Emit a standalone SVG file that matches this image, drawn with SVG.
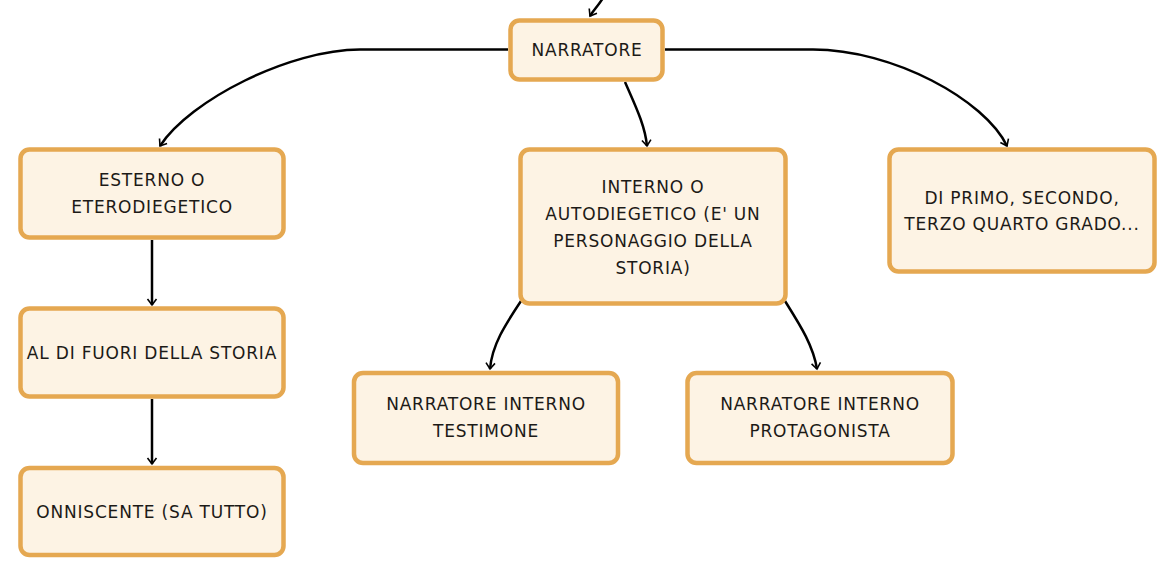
<svg xmlns="http://www.w3.org/2000/svg" width="1174" height="577" viewBox="0 0 1174 577">
<style>
.box{fill:#FDF3E4;stroke:#E5A851;stroke-width:4.5}
.t{font-family:"DejaVu Sans","Noto Sans",sans-serif;font-size:17px;letter-spacing:0.8px;fill:#1c1a17;text-anchor:middle}
.c{fill:none;stroke:#000;stroke-width:2.5}
</style>
<defs>
<marker id="ah" markerUnits="userSpaceOnUse" markerWidth="12" markerHeight="12" viewBox="-8 -6 10 12" refX="0" refY="0" orient="auto">
<path d="M-6,-4.5 L0,0 L-6,4.5" fill="none" stroke="#000" stroke-width="1.6"/>
</marker>
</defs>
<rect width="1174" height="577" fill="#fff"/>
<g id="connectors">
<path class="c" d="M603,-2 C598,6 593,11 590,16" marker-end="url(#ah)"/>
<path class="c" d="M508,49.5 L360,49.5 C290,49.5 190,100 160,146" marker-end="url(#ah)"/>
<path class="c" d="M665,49.5 L813,49.5 C893,49.5 985,100 1007,146" marker-end="url(#ah)"/>
<path class="c" d="M625,82 C635,105 645,125 647,146" marker-end="url(#ah)"/>
<path class="c" d="M152,240 L152,305" marker-end="url(#ah)"/>
<path class="c" d="M152,399 L152,464" marker-end="url(#ah)"/>
<path class="c" d="M521,301 C505,325 492,345 490,369" marker-end="url(#ah)"/>
<path class="c" d="M785,301 C800,325 813,345 817,369" marker-end="url(#ah)"/>
</g>
<g id="n-narratore">
<rect class="box" x="510.5" y="20.5" width="152" height="59" rx="9"/>
<text class="t" x="587" y="55.5">NARRATORE</text>
</g>
<g id="n-esterno">
<rect class="box" x="20.5" y="149.5" width="263" height="88" rx="9"/>
<text class="t" x="152" y="186">ESTERNO O</text>
<text class="t" x="152" y="213">ETERODIEGETICO</text>
</g>
<g id="n-fuori">
<rect class="box" x="20.5" y="308.5" width="263" height="88" rx="9"/>
<text class="t" x="152" y="358.5">AL DI FUORI DELLA STORIA</text>
</g>
<g id="n-onnisciente">
<rect class="box" x="20.5" y="468" width="263" height="87" rx="9"/>
<text class="t" x="152" y="518">ONNISCENTE (SA TUTTO)</text>
</g>
<g id="n-interno">
<rect class="box" x="520.5" y="149.5" width="265" height="154" rx="9"/>
<text class="t" x="653" y="192.5">INTERNO O</text>
<text class="t" x="653" y="219.5">AUTODIEGETICO (E' UN</text>
<text class="t" x="653" y="246.5">PERSONAGGIO DELLA</text>
<text class="t" x="653" y="273.5">STORIA)</text>
</g>
<g id="n-grado">
<rect class="box" x="889.5" y="149.5" width="265" height="122" rx="9"/>
<text class="t" x="1022" y="203.5">DI PRIMO, SECONDO,</text>
<text class="t" x="1022" y="230">TERZO QUARTO GRADO...</text>
</g>
<g id="n-testimone">
<rect class="box" x="354" y="373" width="264" height="90" rx="9"/>
<text class="t" x="486" y="410">NARRATORE INTERNO</text>
<text class="t" x="486" y="437">TESTIMONE</text>
</g>
<g id="n-protagonista">
<rect class="box" x="687.5" y="373" width="265" height="90" rx="9"/>
<text class="t" x="820" y="410">NARRATORE INTERNO</text>
<text class="t" x="820" y="437">PROTAGONISTA</text>
</g>
</svg>
